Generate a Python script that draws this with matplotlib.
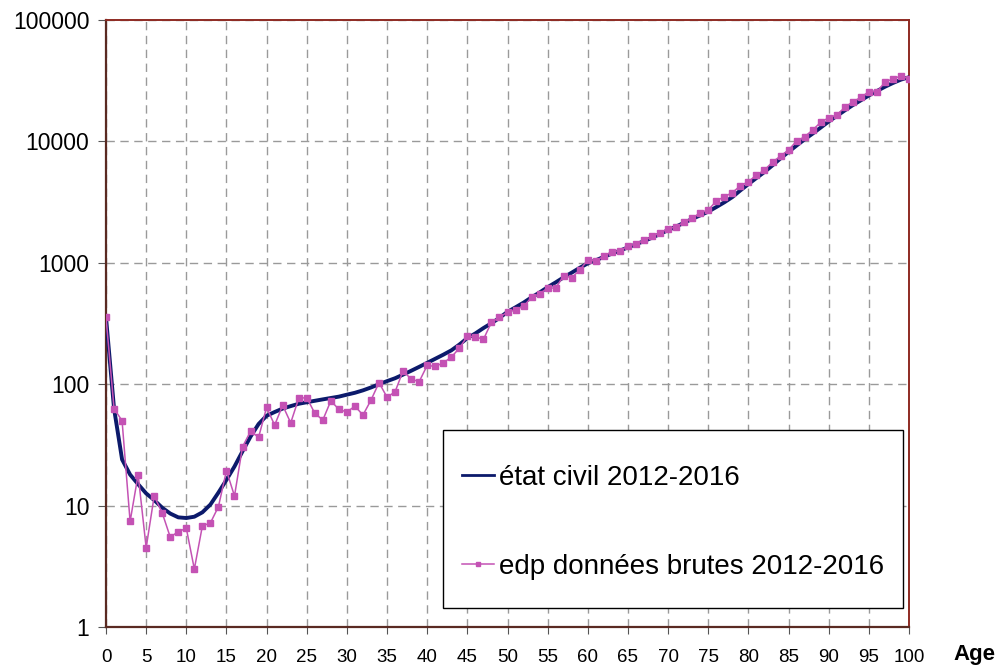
import matplotlib
matplotlib.use("Agg")
import matplotlib.pyplot as plt
from matplotlib.patches import Rectangle
from matplotlib.ticker import FixedLocator, FixedFormatter

plt.rcParams['font.family'] = ['Liberation Sans', 'DejaVu Sans']

ages = list(range(0, 101))

# état civil 2012-2016 (courbe lissée)
etat_civil = [356, 63, 24, 18, 15, 12.6, 11.1, 9.6, 8.6, 8.0,
              7.9, 8.1, 8.8, 10.2, 12.8, 16.3, 21, 28, 37, 47,
              55, 59, 63, 66, 69, 71, 73, 75, 77, 79,
              82, 85, 89, 94, 100, 106, 112, 120, 129, 139,
              150, 162, 175, 190, 212, 240, 262, 290, 318, 352,
              395, 430, 470, 520, 570, 630, 690, 760, 830, 910,
              990, 1050, 1120, 1190, 1260, 1340, 1420, 1510, 1610, 1730,
              1860, 1990, 2140, 2300, 2460, 2640, 2880, 3150, 3480, 3950,
              4450, 5000, 5600, 6350, 7250, 8200, 9250, 10400, 11600, 13000,
              14600, 16200, 18000, 19900, 21800, 23900, 26000, 28200, 30300, 32300,
              33800]

# edp données brutes 2012-2016
edp_brutes = [356, 63, 50, 7.4, 18, 4.5, 12, 8.7, 5.5, 6.1,
              6.5, 3.0, 6.8, 7.2, 9.8, 19.4, 12, 30.5, 41, 36.5,
              64.5, 46, 67, 48, 76.5, 77.5, 57.6, 50.7, 73, 62,
              59, 66, 55.7, 74, 103, 78, 86.7, 129, 110, 105,
              143, 140, 150, 167, 198, 248, 246, 234, 324, 356,
              393, 411, 438, 520, 557, 620, 620, 783, 754, 873,
              1055, 1035, 1138, 1236, 1259, 1375, 1428, 1531, 1652, 1770,
              1909, 1983, 2168, 2326, 2588, 2723, 3230, 3505, 3785, 4318,
              4659, 5290, 5810, 6760, 7580, 8500, 10080, 10930, 12420, 14370,
              15680, 16490, 19080, 21230, 23080, 25700, 25700, 30690, 32870, 34570,
              32870]

x_ticks = list(range(0, 101, 5))
y_ticks = [1, 10, 100, 1000, 10000, 100000]
y_labels = ['1', '10', '100', '1000', '10000', '100000']

fig = plt.figure(figsize=(10.02, 6.70), dpi=100)
ax = fig.add_axes([0.1058, 0.0642, 0.8014, 0.9059])

ax.plot(ages, etat_civil, color='#0c1a6b', linewidth=2.8,
        label='état civil 2012-2016', zorder=3)
ax.plot(ages, edp_brutes, color='#c452b4', linewidth=1.1, marker='s',
        markersize=4.6, markeredgecolor='#c452b4', markerfacecolor='#c452b4',
        label='edp données brutes 2012-2016', zorder=4)

ax.set_yscale('log')
ax.set_xlim(0, 100)
ax.set_ylim(1, 100000)
ax.xaxis.set_major_locator(FixedLocator(x_ticks))
ax.yaxis.set_major_locator(FixedLocator(y_ticks))
ax.yaxis.set_major_formatter(FixedFormatter(y_labels))
ax.yaxis.set_minor_locator(FixedLocator([]))
ax.set_xticklabels([str(v) for v in x_ticks], fontsize=13.5,
                   family=['Liberation Sans Narrow', 'Liberation Sans'])
for lab in ax.get_yticklabels():
    lab.set_fontsize(16.5)

ax.tick_params(axis='x', direction='out', length=5, width=0.8, color='#555555', pad=11)
ax.tick_params(axis='y', direction='out', length=6, width=0.8, color='#555555', pad=6)

ax.grid(True, which='major', color='#9a9a9a', linestyle=(0, (6, 4)), linewidth=1.0)
ax.set_axisbelow(True)

for side in ['top', 'right']:
    ax.spines[side].set_color('#8e2a22')
    ax.spines[side].set_linewidth(1.4)
for side in ['left', 'bottom']:
    ax.spines[side].set_color('#5a2a22')
    ax.spines[side].set_linewidth(1.6)

# cadre de la légende
frame = Rectangle((0.4197, 0.0313), 0.5728, 0.2932, transform=ax.transAxes,
                  facecolor='white', edgecolor='black', linewidth=1.0, zorder=5)
ax.add_patch(frame)

leg = ax.legend(loc='upper left', bbox_to_anchor=(0.4433, 0.2669),
                fontsize=20, frameon=False, borderpad=0, labelspacing=2.27,
                handlelength=1.15, handletextpad=0.2, borderaxespad=0,
                markerscale=0.6)
leg.set_zorder(6)
leg.get_lines()[0].set_linewidth(2.0)

fig.text(0.972, 0.0224, 'Age', fontsize=16, fontweight='bold',
         ha='center', va='center')

fig.savefig('out.png', dpi=100)
